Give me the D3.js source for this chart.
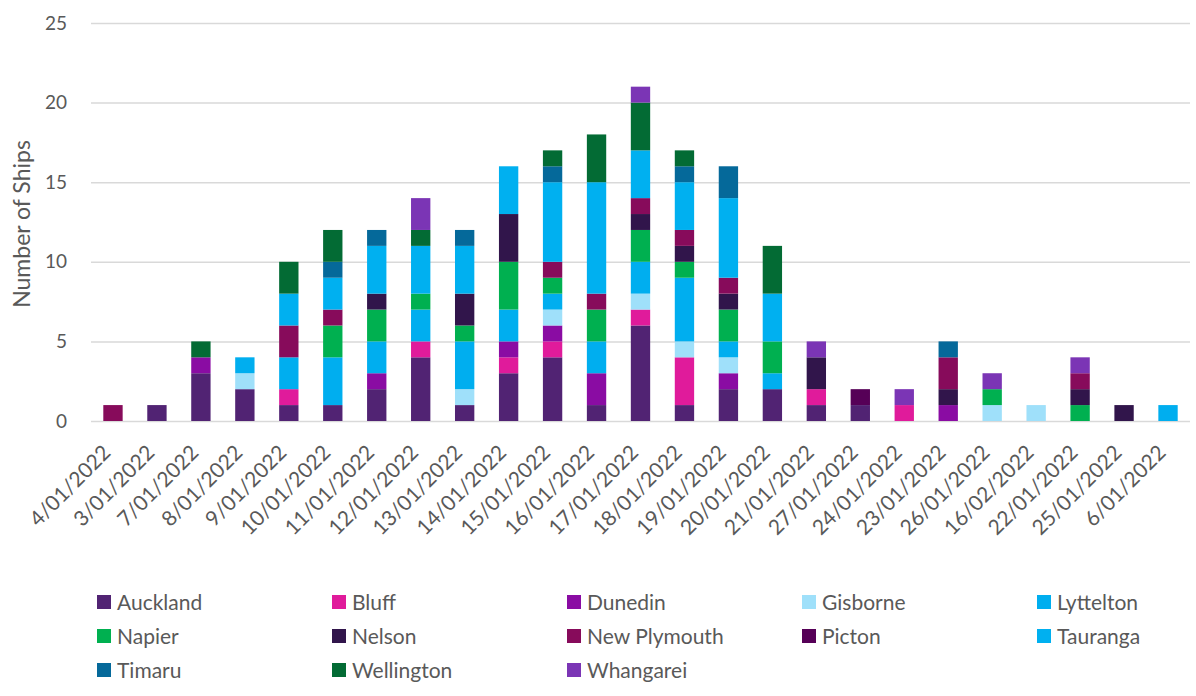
<!DOCTYPE html>
<html>
<head>
<meta charset="utf-8">
<script src="https://cdn.jsdelivr.net/npm/d3@7"></script>
<style>
  body { margin: 0; background: #fff; }
  text { font-family: Lato, "Open Sans", sans-serif; fill: #595959; }
</style>
</head>
<body>
<div id="chart"></div>
<script>
// Categories (dates, in chart order)
const dates = ["4/01/2022", "3/01/2022", "7/01/2022", "8/01/2022", "9/01/2022", "10/01/2022",
  "11/01/2022", "12/01/2022", "13/01/2022", "14/01/2022", "15/01/2022", "16/01/2022",
  "17/01/2022", "18/01/2022", "19/01/2022", "20/01/2022", "21/01/2022", "27/01/2022",
  "24/01/2022", "23/01/2022", "26/01/2022", "16/02/2022", "22/01/2022", "25/01/2022", "6/01/2022"];

const ports = ["Auckland", "Bluff", "Dunedin", "Gisborne", "Lyttelton", "Napier", "Nelson",
  "New Plymouth", "Picton", "Tauranga", "Timaru", "Wellington", "Whangarei"];

const portColors = ["#512373", "#e01b9b", "#8a0ca3", "#9fe0fa", "#00aeef", "#00b050", "#31154b",
  "#870b5b", "#560057", "#00b0f0", "#05699a", "#036b34", "#7b35b5"];

// series values, one per port, in date order
const auckland    = [0,1,3,2,1,1,2,4,1,3,4,1,6,1,2,2,1,1,0,0,0,0,0,0,0];
const bluff       = [0,0,0,0,1,0,0,1,0,1,1,0,1,3,0,0,1,0,1,0,0,0,0,0,0];
const dunedin     = [0,0,1,0,0,0,1,0,0,1,1,2,0,0,1,0,0,0,0,1,0,0,0,0,0];
const gisborne    = [0,0,0,1,0,0,0,0,1,0,1,0,1,1,1,0,0,0,0,0,1,1,0,0,0];
const lyttelton   = [0,0,0,1,2,3,2,2,3,2,1,2,2,4,1,1,0,0,0,0,0,0,0,0,1];
const napier      = [0,0,0,0,0,2,2,1,1,3,1,2,2,1,2,2,0,0,0,0,1,0,1,0,0];
const nelson      = [0,0,0,0,0,0,1,0,2,3,0,0,1,1,1,0,2,0,0,1,0,0,1,1,0];
const newPlymouth = [1,0,0,0,2,1,0,0,0,0,1,1,1,1,1,0,0,0,0,2,0,0,1,0,0];
const picton      = [0,0,0,0,0,0,0,0,0,0,0,0,0,0,0,0,0,1,0,0,0,0,0,0,0];
const tauranga    = [0,0,0,0,2,2,3,3,3,3,5,7,3,3,5,3,0,0,0,0,0,0,0,0,0];
const timaru      = [0,0,0,0,0,1,1,0,1,0,1,0,0,1,2,0,0,0,0,1,0,0,0,0,0];
const wellington  = [0,0,1,0,2,2,0,1,0,0,1,3,3,1,0,3,0,0,0,0,0,0,0,0,0];
const whangarei   = [0,0,0,0,0,0,0,2,0,0,0,0,1,0,0,0,1,0,1,0,1,0,1,0,0];

const yTicks = [0, 5, 10, 15, 20, 25];

const seriesValues = [auckland, bluff, dunedin, gisborne, lyttelton, napier, nelson,
  newPlymouth, picton, tauranga, timaru, wellington, whangarei];

// table for d3.stack
const rows = dates.map((d, i) => {
  const row = { date: d };
  ports.forEach((p, j) => { row[p] = seriesValues[j][i]; });
  return row;
});

const W = 1196, H = 696;
const plot = { left: 91, right: 1190, top: 23, bottom: 421 };

const svg = d3.select("#chart").append("svg")
  .attr("width", W)
  .attr("height", H);

const x = d3.scaleBand()
  .domain(dates)
  .range([plot.left, plot.right])
  .paddingInner(0.56)
  .paddingOuter(0.28);

const y = d3.scaleLinear()
  .domain([0, 25])
  .range([plot.bottom, plot.top]);

const color = d3.scaleOrdinal().domain(ports).range(portColors);

// gridlines
svg.append("g")
  .selectAll("line")
  .data(yTicks)
  .enter().append("line")
  .attr("x1", plot.left)
  .attr("x2", plot.right)
  .attr("y1", d => y(d) + 0.5)
  .attr("y2", d => y(d) + 0.5)
  .attr("stroke", "#d9d9d9")
  .attr("stroke-width", 1.5);

// y axis labels
const yAxis = d3.axisLeft(y).tickValues(yTicks).tickSize(0).tickPadding(24);
svg.append("g")
  .attr("transform", `translate(${plot.left},0)`)
  .call(yAxis)
  .call(g => g.select(".domain").remove())
  .selectAll("text")
  .style("font-size", "19px")
  .attr("fill", "#595959");

svg.append("text")
  .attr("transform", "translate(30,224) rotate(-90)")
  .attr("text-anchor", "middle")
  .style("font-size", "23px")
  .text("Number of Ships");

// stacked bars
const stacked = d3.stack().keys(ports)(rows);

svg.append("g")
  .selectAll("g")
  .data(stacked)
  .enter().append("g")
  .attr("fill", d => color(d.key))
  .selectAll("rect")
  .data(d => d)
  .enter().append("rect")
  .attr("x", d => x(d.data.date))
  .attr("width", x.bandwidth())
  .attr("y", d => y(d[1]))
  .attr("height", d => y(d[0]) - y(d[1]));

// x axis labels
const xAxis = d3.axisBottom(x).tickSize(0).tickPadding(0);
svg.append("g")
  .attr("transform", `translate(0,${plot.bottom})`)
  .call(xAxis)
  .call(g => g.select(".domain").remove())
  .selectAll("text")
  .style("font-size", "21px")
  .attr("fill", "#595959")
  .attr("text-anchor", "end")
  .attr("dy", "0")
  .attr("transform", "translate(-1,33) rotate(-45)");

// legend
const legend = svg.append("g");
const cols = 5, colW = 235, rowH = 34;
ports.forEach((p, i) => {
  const gx = 97 + (i % cols) * colW;
  const gy = 602 + Math.floor(i / cols) * rowH;
  const item = legend.append("g").attr("transform", `translate(${gx},${gy})`);
  item.append("rect")
    .attr("x", 0).attr("y", -7)
    .attr("width", 14).attr("height", 14)
    .attr("fill", color(p));
  item.append("text")
    .attr("x", 20).attr("y", 0)
    .attr("dy", "0.36em")
    .style("font-size", "21px")
    .text(p);
});
</script>
</body>
</html>
